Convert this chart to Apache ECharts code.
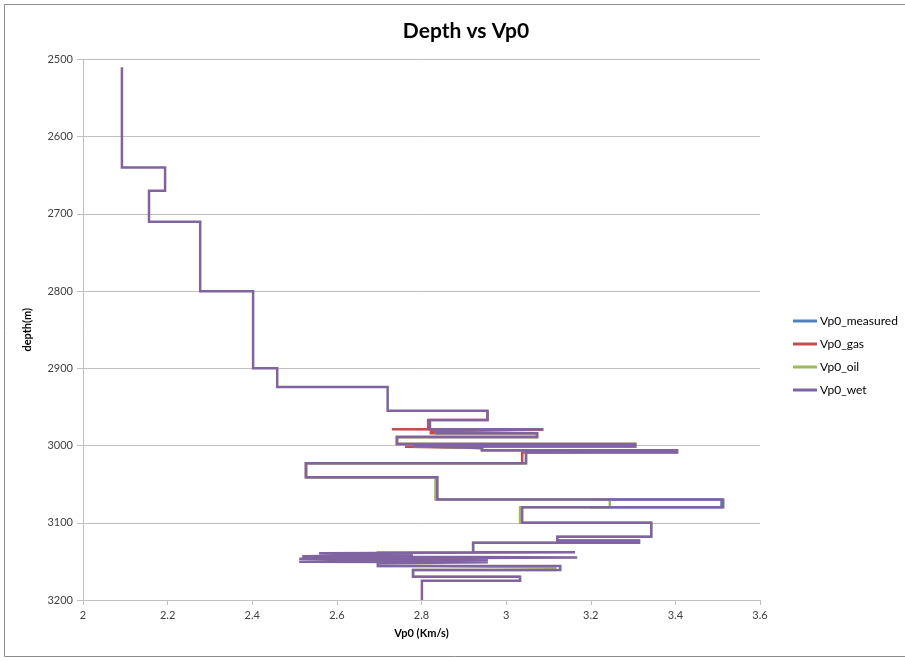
<!DOCTYPE html>
<html>
<head>
<meta charset="utf-8">
<script src="https://cdn.jsdelivr.net/npm/echarts@6/dist/echarts.min.js"></script>
<style>
html,body{margin:0;padding:0;background:#fff;}
#chart{width:905px;height:661px;}
</style>
</head>
<body>
<div id="chart"></div>
<script>
// ---- data: [Vp0 (Km/s), depth (m)] ----
const seriesNames = ['Vp0_measured', 'Vp0_gas', 'Vp0_oil', 'Vp0_wet'];
const seriesColors = ['#4F81BD', '#C0504D', '#9BBB59', '#8064A2'];

const vp0Measured = [
  [3.20, 3070], [3.509, 3070], [3.509, 3080], [3.20, 3080]
];

const vp0Gas = [
  [2.956, 2955], [2.956, 2967], [2.816, 2967], [2.816, 2979], [2.73, 2979], [2.73, 2979.6],
  [3.088, 2979.6], [3.088, 2981], [2.822, 2981], [2.822, 2984], [3.073, 2984], [3.073, 2989],
  [2.742, 2989], [2.742, 2998], [3.305, 2998], [3.305, 3001.5], [2.761, 3001.5], [2.761, 3003],
  [2.943, 3003], [2.943, 3006], [3.217, 3006], [3.217, 3007], [3.404, 3007], [3.404, 3009],
  [3.038, 3009], [3.038, 3023], [2.527, 3023], [2.527, 3041], [2.837, 3041], [2.837, 3070]
];

const vp0Oil = [
  [2.836, 2981], [2.836, 2984], [3.073, 2984], [3.073, 2989], [2.742, 2989], [2.742, 2998],
  [3.305, 2998], [3.305, 3001], [2.782, 3001], [2.782, 3003], [2.943, 3003], [2.943, 3006],
  [3.404, 3006], [3.404, 3009], [3.047, 3009], [3.047, 3023], [2.527, 3023], [2.527, 3041],
  [2.833, 3041], [2.833, 3070], [3.245, 3070], [3.245, 3080], [3.033, 3080], [3.033, 3100],
  [3.343, 3100], [3.343, 3118], [3.121, 3118], [3.121, 3123], [3.314, 3123], [3.314, 3126],
  [2.922, 3126], [2.922, 3138], [2.697, 3138], [2.697, 3156], [2.82, 3156], [2.82, 3158],
  [3.116, 3158], [3.116, 3161], [2.78, 3161], [2.78, 3170], [3.033, 3170]
];

const vp0Wet = [
  [2.092, 2510], [2.092, 2640], [2.194, 2640], [2.194, 2670], [2.156, 2670], [2.156, 2710],
  [2.277, 2710], [2.277, 2800], [2.402, 2800], [2.402, 2900], [2.459, 2900], [2.459, 2924],
  [2.72, 2924], [2.72, 2955], [2.956, 2955], [2.956, 2967], [2.82, 2967], [2.82, 2979],
  [3.088, 2979], [3.088, 2981], [2.836, 2981], [2.836, 2984], [3.073, 2984], [3.073, 2989],
  [2.742, 2989], [2.742, 2998], [3.305, 2998], [3.305, 3001], [2.782, 3001], [2.782, 3003],
  [2.943, 3003], [2.943, 3006], [3.404, 3006], [3.404, 3009], [3.047, 3009], [3.047, 3023],
  [2.527, 3023], [2.527, 3041], [2.837, 3041], [2.837, 3070], [3.513, 3070], [3.513, 3080],
  [3.038, 3080], [3.038, 3100], [3.343, 3100], [3.343, 3118], [3.121, 3118], [3.121, 3123],
  [3.314, 3123], [3.314, 3126], [2.922, 3126], [2.922, 3138], [3.163, 3138], [3.163, 3139.5],
  [2.558, 3139.5], [2.558, 3141.5], [2.78, 3141.5], [2.78, 3143.5], [2.518, 3143.5], [2.518, 3145],
  [3.168, 3145], [3.168, 3146.5], [2.511, 3146.5], [2.511, 3148.5], [2.957, 3148.5], [2.957, 3150.5],
  [2.511, 3150.5], [2.511, 3151], [2.957, 3151], [2.957, 3152.5], [2.697, 3152.5], [2.697, 3156],
  [3.128, 3156], [3.128, 3161], [2.78, 3161], [2.78, 3170], [3.033, 3170], [3.033, 3175],
  [2.801, 3175], [2.801, 3200]
];

const xTickValues = [2, 2.2, 2.4, 2.6, 2.8, 3, 3.2, 3.4, 3.6];
const xTickLabels = ['2', '2.2', '2.4', '2.6', '2.8', '3', '3.2', '3.4', '3.6'];
const yTickValues = [2500, 2600, 2700, 2800, 2900, 3000, 3100, 3200];
const yTickLabels = ['2500', '2600', '2700', '2800', '2900', '3000', '3100', '3200'];

const chartTitle = 'Depth vs Vp0';
const xAxisTitle = 'Vp0 (Km/s)';
const yAxisTitle = 'depth(m)';

// ---- chart ----
const chart = echarts.init(document.getElementById('chart'), null, {renderer: 'canvas'});
const font = 'Lato, "Open Sans", "Liberation Sans", sans-serif';

function labelFor(values, labels) {
  return function (v) {
    for (let i = 0; i < values.length; i++) {
      if (Math.abs(values[i] - v) < 1e-6) return labels[i];
    }
    return '';
  };
}

const dataSets = [vp0Measured, vp0Gas, vp0Oil, vp0Wet];

const option = {
  animation: false,
  backgroundColor: '#ffffff',
  textStyle: {fontFamily: font},
  title: {
    text: chartTitle,
    left: 461, top: 16, textAlign: 'center',
    textStyle: {fontSize: 21, fontWeight: 'bold', color: '#000', fontFamily: font}
  },
  graphic: [{
    type: 'rect', shape: {x: 4.5, y: 4.5, width: 920, height: 652},
    style: {fill: 'none', stroke: '#8c8c8c', lineWidth: 1}, silent: true
  }],
  legend: {
    orient: 'vertical',
    left: 788, top: 310,
    itemWidth: 24, itemHeight: 3, itemGap: 11,
    icon: 'rect',
    data: seriesNames,
    textStyle: {fontSize: 12, color: '#000', fontFamily: font, padding: [0, 0, 0, -2]}
  },
  grid: {left: 83, right: 145, top: 59.5, bottom: 61, containLabel: false},
  xAxis: {
    type: 'value', min: 2, max: 3.6, interval: 0.2,
    name: xAxisTitle, nameLocation: 'middle', nameGap: 28,
    nameTextStyle: {fontSize: 11, fontWeight: 'bold', color: '#000', fontFamily: font},
    axisLine: {show: true, onZero: false, lineStyle: {color: '#bfbfbf', width: 1}},
    axisTick: {show: true, length: 5, lineStyle: {color: '#bfbfbf'}},
    axisLabel: {fontSize: 11, color: '#404040', margin: 10, formatter: labelFor(xTickValues, xTickLabels)},
    splitLine: {show: false}
  },
  yAxis: {
    type: 'value', min: 2500, max: 3200, interval: 100, inverse: true,
    name: yAxisTitle, nameLocation: 'middle', nameGap: 50, nameRotate: 90,
    nameTextStyle: {fontSize: 11, fontWeight: 'bold', color: '#000', fontFamily: font},
    axisLine: {show: true, onZero: false, lineStyle: {color: '#bfbfbf', width: 1}},
    axisTick: {show: true, length: 6, lineStyle: {color: '#bfbfbf'}},
    axisLabel: {fontSize: 11, color: '#404040', margin: 10, formatter: labelFor(yTickValues, yTickLabels)},
    splitLine: {show: true, lineStyle: {color: '#bfbfbf', width: 1}}
  },
  series: seriesNames.map(function (name, i) {
    return {
      name: name, type: 'line', data: dataSets[i],
      showSymbol: false, symbol: 'none', smooth: false,
      color: seriesColors[i],
      lineStyle: {width: 2.5, color: seriesColors[i], join: 'miter', cap: 'butt'},
      z: 2 + i
    };
  })
};
chart.setOption(option);
</script>
</body>
</html>
